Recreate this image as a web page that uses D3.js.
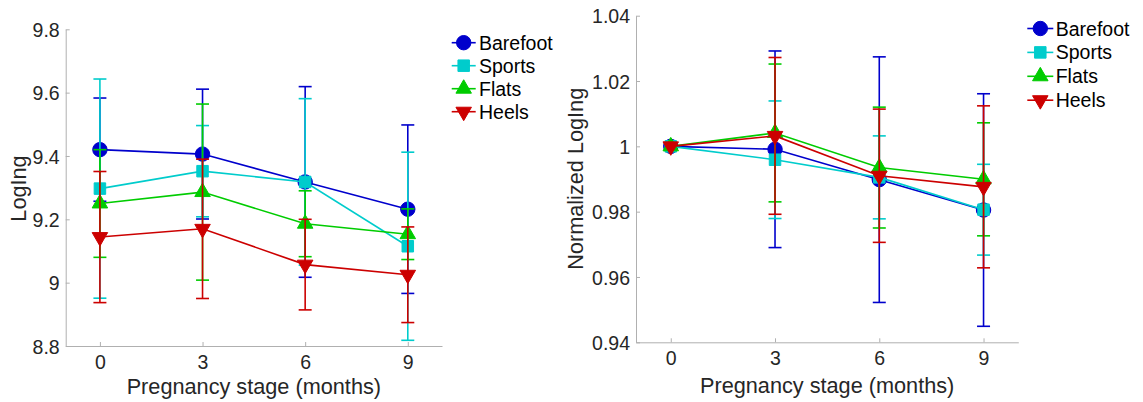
<!DOCTYPE html>
<html>
<head>
<meta charset="utf-8">
<script src="https://cdn.jsdelivr.net/npm/d3@7"></script>
<style>
  html, body { margin: 0; padding: 0; background: #ffffff; }
  svg { display: block; font-family: "Liberation Sans", Arial, Helvetica, sans-serif; }
</style>
</head>
<body>
<svg id="chart" width="1143" height="402"></svg>
<script>
// Pregnancy stage (months)
const stages = [0, 3, 6, 9];
const seriesNames = ["Barefoot", "Sports", "Flats", "Heels"];

// LogIng means and error half-widths
const logBarefoot = [9.420, 9.406, 9.318, 9.232];
const logBarefootErr = [0.163, 0.205, 0.301, 0.266];
const logSports = [9.297, 9.352, 9.318, 9.115];
const logSportsErr = [0.346, 0.144, 0.263, 0.297];
const logFlats = [9.250, 9.286, 9.186, 9.153];
const logFlatsErr = [0.170, 0.278, 0.104, 0.080];
const logHeels = [9.144, 9.170, 9.057, 9.025];
const logHeelsErr = [0.207, 0.220, 0.143, 0.151];

// Normalized LogIng means and error half-widths
const normBarefoot = [1.0, 0.9991, 0.9898, 0.9805];
const normBarefootErr = [0, 0.0301, 0.0376, 0.0356];
const normSports = [1.0, 0.9959, 0.9905, 0.9806];
const normSportsErr = [0, 0.0180, 0.0127, 0.0139];
const normFlats = [1.0, 1.0041, 0.9935, 0.9899];
const normFlatsErr = [0, 0.0211, 0.0185, 0.0173];
const normHeels = [1.0, 1.0032, 0.9910, 0.9876];
const normHeelsErr = [0, 0.0240, 0.0204, 0.0248];

// Tick values
const xTicks = [0, 3, 6, 9];
const logTicks = [8.8, 9.0, 9.2, 9.4, 9.6, 9.8];
const normTicks = [0.94, 0.96, 0.98, 1.0, 1.02, 1.04];

const colors = ["#0000cc", "#00cccc", "#00cc00", "#cc0000"];
const shapes = ["circle", "square", "triangleUp", "triangleDown"];

const svg = d3.select("#chart");
const axisColor = "#b0b0b0";
const textColor = "#262626";

function markerPath(shape) {
  if (shape === "circle") return d3.symbol(d3.symbolCircle, Math.PI * 7.2 * 7.2)();
  if (shape === "square") return d3.symbol(d3.symbolSquare, 11.5 * 11.5)();
  const side = 15.5;
  return d3.symbol(d3.symbolTriangle, Math.sqrt(3) / 4 * side * side)();
}

function drawMarker(g, shape, color, x, y) {
  g.append("path")
    .attr("d", markerPath(shape))
    .attr("transform", `translate(${x},${y})` + (shape === "triangleDown" ? " rotate(180)" : ""))
    .attr("fill", color)
    .attr("stroke", color)
    .attr("stroke-width", 1);
}

function drawPanel(cfg) {
  const x = d3.scaleLinear().domain([-1, 10]).range(cfg.xRange);
  const y = d3.scaleLinear().domain(cfg.yDomain).range(cfg.yRange);
  const g = svg.append("g");

  // axes (left and bottom only, inward ticks)
  const yAxis = d3.axisLeft(y).tickValues(cfg.yTicks).tickFormat(cfg.yFormat)
    .tickSizeInner(-4).tickSizeOuter(0).tickPadding(6);
  const xAxis = d3.axisBottom(x).tickValues(xTicks).tickFormat(d3.format("d"))
    .tickSizeInner(-4).tickSizeOuter(0).tickPadding(9);

  const ya = g.append("g").attr("transform", `translate(${cfg.xRange[0]},0)`).call(yAxis);
  const xa = g.append("g").attr("transform", `translate(0,${cfg.yRange[0]})`).call(xAxis);
  [ya, xa].forEach(a => {
    a.select(".domain").attr("stroke", axisColor).attr("stroke-width", 1);
    a.selectAll(".tick line").attr("stroke", axisColor).attr("stroke-width", 1);
    a.selectAll(".tick text").attr("fill", textColor)
      .style("font-size", "19.5px").style("font-family", "'Liberation Sans', Arial, sans-serif");
  });
  ya.selectAll(".tick text").attr("dy", "0.36em");

  // axis titles
  g.append("text")
    .attr("x", (cfg.xRange[0] + cfg.xRange[1]) / 2 + cfg.xTitleShift)
    .attr("y", cfg.xTitleY)
    .attr("text-anchor", "middle")
    .attr("fill", textColor)
    .style("font-size", "21.7px")
    .text("Pregnancy stage (months)");
  g.append("text")
    .attr("transform", `translate(${cfg.yTitleX},${cfg.yTitleY}) rotate(-90)`)
    .attr("text-anchor", "middle")
    .attr("fill", textColor)
    .style("font-size", "21.7px")
    .text(cfg.yTitle);

  // series: each drawn as a whole (line, error bars, markers) in order
  const line = d3.line().x((d, i) => x(stages[i])).y(d => y(d));
  cfg.series.forEach((s, k) => {
    const sg = g.append("g");
    const col = colors[k];
    sg.append("path").datum(s.values).attr("d", line)
      .attr("fill", "none").attr("stroke", col).attr("stroke-width", 1.6);
    s.values.forEach((v, i) => {
      const e = s.errors[i];
      if (e <= 0) return;
      const cx = x(stages[i]);
      const y0 = y(v - e), y1 = y(v + e);
      sg.append("line").attr("x1", cx).attr("x2", cx).attr("y1", y0).attr("y2", y1)
        .attr("stroke", col).attr("stroke-width", 1.6);
      [y0, y1].forEach(yy => {
        sg.append("line").attr("x1", cx - 6.5).attr("x2", cx + 6.5).attr("y1", yy).attr("y2", yy)
          .attr("stroke", col).attr("stroke-width", 1.6);
      });
    });
    s.values.forEach((v, i) => drawMarker(sg, shapes[k], col, x(stages[i]), y(v)));
  });

  // legend
  const lg = g.append("g");
  seriesNames.forEach((name, k) => {
    const yy = cfg.legend.y0 + k * cfg.legend.dy;
    lg.append("line").attr("x1", cfg.legend.x0).attr("x2", cfg.legend.x1)
      .attr("y1", yy).attr("y2", yy).attr("stroke", colors[k]).attr("stroke-width", 1.6);
    drawMarker(lg, shapes[k], colors[k], (cfg.legend.x0 + cfg.legend.x1) / 2, yy);
    lg.append("text").attr("x", cfg.legend.tx).attr("y", yy).attr("dy", "0.36em")
      .attr("fill", "#000000").style("font-size", "19.5px").text(name);
  });
}

drawPanel({
  xRange: [65.7, 442],
  yRange: [346, 29.3],
  yDomain: [8.8, 9.8],
  yTicks: logTicks,
  yFormat: d => d3.format("~g")(+d.toFixed(2)),
  yTitle: "LogIng",
  yTitleX: 26, yTitleY: 188.5,
  xTitleY: 394, xTitleShift: 0,
  series: [
    { values: logBarefoot, errors: logBarefootErr },
    { values: logSports, errors: logSportsErr },
    { values: logFlats, errors: logFlatsErr },
    { values: logHeels, errors: logHeelsErr }
  ],
  legend: { x0: 451.7, x1: 475.7, tx: 479, y0: 42.7, dy: 23 }
});

drawPanel({
  xRange: [636, 1018.3],
  yRange: [342.3, 15.7],
  yDomain: [0.94, 1.04],
  yTicks: normTicks,
  yFormat: d => d3.format("~g")(+d.toFixed(2)),
  yTitle: "Normalized LogIng",
  yTitleX: 583.3, yTitleY: 178.8,
  xTitleY: 393, xTitleShift: 0,
  series: [
    { values: normBarefoot, errors: normBarefootErr },
    { values: normSports, errors: normSportsErr },
    { values: normFlats, errors: normFlatsErr },
    { values: normHeels, errors: normHeelsErr }
  ],
  legend: { x0: 1027.3, x1: 1053.3, tx: 1055.7, y0: 28.5, dy: 23.9 }
});
</script>
</body>
</html>
